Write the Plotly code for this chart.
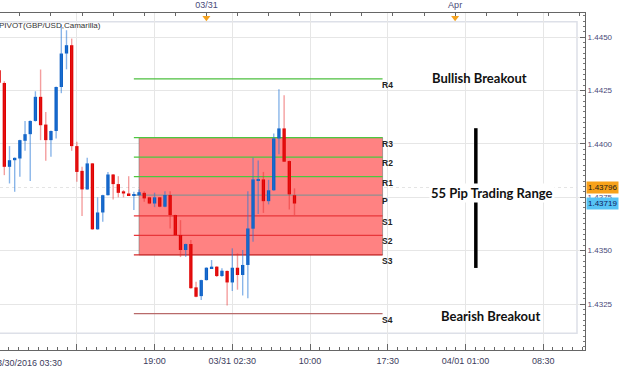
import plotly.graph_objects as go
import pandas as pd

# ---------------- data ----------------
times = pd.date_range("2016-03-30 04:00", periods=58, freq="30min")
opens = [1.44345, 1.44286, 1.43893, 1.43924, 1.43932, 1.44015, 1.44046, 1.44108, 1.44221, 1.44091,
         1.44018, 1.44061, 1.44267, 1.44424, 1.44463, 1.43990, 1.43874, 1.43787, 1.43909, 1.43600,
         1.43679, 1.43760, 1.43857, 1.43812, 1.43778, 1.43768, 1.43759, 1.43760, 1.43771, 1.43750,
         1.43721, 1.43750, 1.43706, 1.43761, 1.43667, 1.43573, 1.43503, 1.43531, 1.43328, 1.43287,
         1.43362, 1.43417, 1.43425, 1.43381, 1.43405, 1.43351, 1.43420, 1.43386, 1.43433, 1.43603,
         1.43829, 1.43834, 1.43732, 1.43783, 1.44026, 1.44073, 1.43920, 1.43760]
highs = [1.44355, 1.44294, 1.43990, 1.43937, 1.44020, 1.44108, 1.44110, 1.44247, 1.44349, 1.44150,
         1.44063, 1.44269, 1.44561, 1.44533, 1.44494, 1.44010, 1.43893, 1.43935, 1.43911, 1.43750,
         1.43762, 1.43869, 1.43859, 1.43849, 1.43784, 1.43849, 1.43776, 1.43787, 1.43779, 1.43752,
         1.43772, 1.43752, 1.43779, 1.43779, 1.43669, 1.43643, 1.43533, 1.43550, 1.43354, 1.43364,
         1.43422, 1.43456, 1.43427, 1.43417, 1.43407, 1.43511, 1.43487, 1.43503, 1.43779, 1.43936,
         1.43923, 1.43869, 1.43832, 1.44049, 1.44257, 1.44228, 1.43922, 1.43792]
lows = [1.44280, 1.43854, 1.43815, 1.43776, 1.43846, 1.43968, 1.43826, 1.44105, 1.44018, 1.43921,
        1.43940, 1.44026, 1.44238, 1.44350, 1.43968, 1.43823, 1.43662, 1.43785, 1.43598, 1.43598,
        1.43635, 1.43758, 1.43740, 1.43750, 1.43750, 1.43756, 1.43690, 1.43757, 1.43729, 1.43718,
        1.43704, 1.43704, 1.43704, 1.43604, 1.43570, 1.43470, 1.43471, 1.43322, 1.43282, 1.43269,
        1.43360, 1.43415, 1.43377, 1.43378, 1.43243, 1.43311, 1.43317, 1.43290, 1.43277, 1.43542,
        1.43672, 1.43677, 1.43717, 1.43781, 1.43952, 1.43915, 1.43693, 1.43667]
closes = [1.44287, 1.43893, 1.43924, 1.43935, 1.44018, 1.44046, 1.44108, 1.44221, 1.44088, 1.44018,
          1.44061, 1.44267, 1.44424, 1.44463, 1.43990, 1.43869, 1.43787, 1.43909, 1.43600, 1.43679,
          1.43760, 1.43857, 1.43812, 1.43771, 1.43768, 1.43759, 1.43765, 1.43774, 1.43745, 1.43721,
          1.43750, 1.43706, 1.43761, 1.43667, 1.43573, 1.43503, 1.43531, 1.43324, 1.43284, 1.43362,
          1.43420, 1.43425, 1.43381, 1.43406, 1.43351, 1.43420, 1.43386, 1.43433, 1.43604, 1.43834,
          1.43834, 1.43732, 1.43783, 1.44026, 1.44073, 1.43917, 1.43764, 1.43721]

pivot_names = ["R4", "R3", "R2", "R1", "P", "S1", "S2", "S3", "S4"]
pivot_values = [1.44305, 1.44030, 1.43938, 1.43847, 1.43760, 1.43663, 1.43572, 1.43480, 1.43205]
pivot_start = "2016-03-30 17:00"
pivot_box_start = "2016-03-30 17:30"
pivot_end = "2016-03-31 17:00"

y_ticks = [1.4325, 1.4350, 1.4375, 1.4400, 1.4425, 1.4450]
y_tick_text = ["1.4325", "1.4350", "1.4375", "1.4400", "1.4425", "1.4450"]
bottom_tick_times = ["2016-03-30 11:30", "2016-03-30 19:00", "2016-03-31 02:30", "2016-03-31 10:00",
                     "2016-03-31 17:30", "2016-04-01 01:00", "2016-04-01 08:30"]
bottom_tick_text = ["", "19:00", "03/31 02:30", "10:00", "17:30", "04/01 01:00", "08:30"]
first_label_text = "03/30/2016 03:30"
top_tick_times = list(pd.date_range("2016-03-30 06:00", "2016-04-01 12:00", freq="3h"))
top_label_map = {pd.Timestamp("2016-03-31 00:00"): "03/31", pd.Timestamp("2016-04-01 00:00"): "Apr"}
marker_times = ["2016-03-31 00:00", "2016-04-01 00:00"]

last_price_orange = 1.43796
last_price_blue = 1.43719
range_top, range_bottom = 1.44074, 1.43419

x_range = ["2016-03-30 04:05", "2016-04-01 12:32"]
y_range = [1.430344, 1.446139]

BLUE = "#0a5ec4"
RED = "#e00000"
BLUE_W = "rgba(40,120,215,0.55)"
RED_W = "rgba(230,40,40,0.45)"

fig = go.Figure()

# wicks
for col, cond in ((BLUE_W, True), (RED_W, False)):
    xs, ys = [], []
    for t, o, h, l, c in zip(times, opens, highs, lows, closes):
        if (c >= o) == cond:
            xs += [t, t, None]
            ys += [l, h, None]
    fig.add_trace(go.Scatter(x=xs, y=ys, mode="lines", line=dict(color=col, width=1.4),
                             hoverinfo="skip", showlegend=False))

# bodies
for col, cond in ((BLUE, True), (RED, False)):
    bx, bb, bh = [], [], []
    for t, o, c in zip(times, opens, closes):
        if (c >= o) == cond:
            bx.append(t)
            bb.append(min(o, c))
            bh.append(max(abs(c - o), 0.00004))
    fig.add_trace(go.Bar(x=bx, y=bh, base=bb, width=0.32 * 3600 * 1000,
                         marker=dict(color=col, line=dict(width=0)), showlegend=False,
                         hoverinfo="skip"))

# orange markers on top axis
fig.add_trace(go.Scatter(x=marker_times, y=[1.44592] * len(marker_times), xaxis="x2",
                         mode="markers", marker=dict(symbol="triangle-down", size=7, color="#f5a21f"),
                         cliponaxis=False, showlegend=False, hoverinfo="skip"))

shapes = []
# inner frame
shapes.append(dict(type="rect", xref="paper", yref="y", x0=-0.01, x1=(577 / 585), y0=1.43113, y1=1.44573,
                   line=dict(color="#dde0e8", width=1.5), layer="below"))
# pivot box
shapes.append(dict(type="rect", xref="x", yref="y", x0=pivot_box_start, x1=pivot_end,
                   y0=pivot_values[7], y1=pivot_values[1], fillcolor="#ff8282",
                   line=dict(color="rgba(110,110,110,0.55)", width=1), layer="between"))
# last price dotted line
shapes.append(dict(type="line", xref="paper", yref="y", x0=0, x1=(577 / 585), y0=last_price_orange,
                   y1=last_price_orange, line=dict(color="#e4e4e4", width=1, dash="dot"), layer="between"))
pcolors = ["#4cbf3f", "#4cc73f", "#4cc73f", "#4cc73f", "#8f8f8f", "#e8363a", "#e8363a", "#d42a2a", "#b86a6a"]
for v, c in zip(pivot_values, pcolors):
    shapes.append(dict(type="line", xref="x", yref="y", x0=pivot_start, x1=pivot_end, y0=v, y1=v,
                       line=dict(color=c, width=1.2), layer="between"))
# 55 pip vertical bar
shapes.append(dict(type="line", xref="x", yref="y", x0="2016-04-01 02:00", x1="2016-04-01 02:00",
                   y0=range_bottom, y1=range_top, line=dict(color="#000000", width=3.5)))

annotations = []
for n, v in zip(pivot_names, pivot_values):
    annotations.append(dict(x=pivot_end, y=v, xref="x", yref="y", text="<b>%s</b>" % n, showarrow=False,
                            xanchor="left", yanchor="middle", xshift=-3, yshift=-6,
                            font=dict(family="Liberation Sans", size=8.5, color="#222222")))
big = dict(family="Lato", size=13, color="#111111")
annotations.append(dict(x="2016-04-01 02:24", y=1.44308, text="<b>Bullish Breakout</b>", showarrow=False,
                        font=big))
annotations.append(dict(x="2016-04-01 03:34", y=1.43770, text="<b>55 Pip Trading Range</b>", showarrow=False,
                        font=big, bgcolor="#ffffff", borderpad=1))
annotations.append(dict(x="2016-04-01 03:26", y=1.43195, text="<b>Bearish Breakout</b>", showarrow=False,
                        font=big))
annotations.append(dict(x=0, y=1.44555, xref="paper", yref="y", text="PIVOT(GBP/USD,Camarilla)",
                        showarrow=False, xanchor="left", xshift=-3,
                        font=dict(family="Liberation Sans", size=8, color="#333333")))
annotations.append(dict(x=0, y=0, xref="paper", yref="paper", text=first_label_text,
                        showarrow=False, xanchor="left", yanchor="top", xshift=-10, yshift=-6,
                        font=dict(family="Liberation Sans", size=9, color="#3c3c5c")))
annotations.append(dict(x=1, y=last_price_orange, xref="paper", yref="y", text="1.43796", showarrow=False,
                        xanchor="left", xshift=1, bgcolor="#f7a21b", borderpad=1,
                        font=dict(family="Liberation Sans", size=8, color="#1a1a1a")))
annotations.append(dict(x=1, y=last_price_blue, xref="paper", yref="y", text="1.43719", showarrow=False,
                        xanchor="left", xshift=1, bgcolor="#56c3f5", borderpad=1,
                        font=dict(family="Liberation Sans", size=8, color="#10205a")))

fig.update_layout(
    width=624, height=371,
    margin=dict(l=0, r=39, t=13, b=21),
    paper_bgcolor="#ffffff", plot_bgcolor="#ffffff",
    barmode="overlay", showlegend=False,
    shapes=shapes, annotations=annotations,
    xaxis=dict(type="date", range=x_range, tickvals=bottom_tick_times, ticktext=bottom_tick_text,
               ticks="inside", ticklen=6, tickcolor="#666666", showline=True, linecolor="#666666",
               linewidth=1, showgrid=True, gridcolor="#e6e6e6", gridwidth=1, zeroline=False,
               automargin=False,
               tickfont=dict(family="Liberation Sans", size=9, color="#3c3c5c"),
               ticklabelstandoff=2,
               minor=dict(ticks="inside", ticklen=3, tickcolor="#666666", dtick=56.25 * 60 * 1000,
                          tick0="2016-03-30 11:30", showgrid=False)),
    xaxis2=dict(type="date", range=x_range, overlaying="x", side="top", anchor="y",
                tickvals=top_tick_times,
                ticktext=[top_label_map.get(t, "") for t in top_tick_times],
                ticks="inside", ticklen=3, tickcolor="#666666", showline=True, linecolor="#666666",
                linewidth=1, showgrid=False, zeroline=False, automargin=False,
                tickfont=dict(family="Liberation Sans", size=9, color="#4a4a7a")),
    yaxis=dict(range=y_range, side="right", tickvals=y_ticks, ticktext=y_tick_text,
               ticks="inside", ticklen=5, tickcolor="#666666", showline=True, linecolor="#666666",
               linewidth=1, showgrid=True, gridcolor="#e6e6e6", gridwidth=1, zeroline=False,
               automargin=False,
               tickfont=dict(family="Liberation Sans", size=8, color="#4a4a7a"),
               minor=dict(ticks="inside", ticklen=2, tickcolor="#777777", dtick=0.00025, showgrid=False)),
)

fig.write_html("out.html", config={"displayModeBar": False},
               post_script="document.body.style.margin='0';document.body.style.overflow='hidden';")
